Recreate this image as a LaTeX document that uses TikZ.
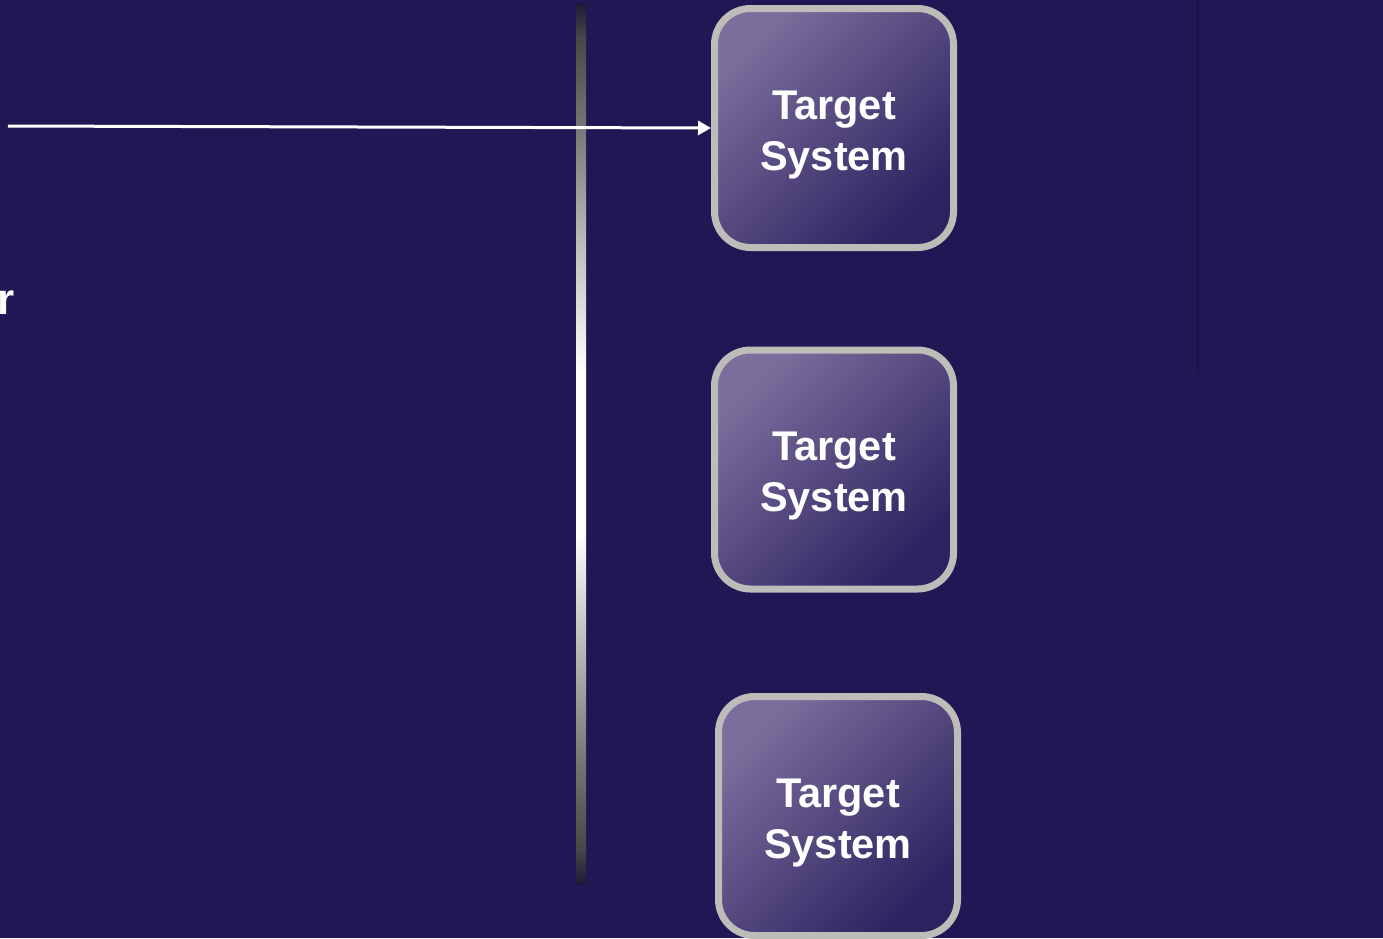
\documentclass[tikz,border=0pt]{standalone}
\usepackage{fontspec}
\setmainfont{Liberation Sans}
\usetikzlibrary{arrows.meta,shadings}

\definecolor{bgnavy}{HTML}{231655}
\definecolor{boxlight}{HTML}{7A6E9C}
\definecolor{boxdark}{HTML}{2D2160}
\definecolor{boxrim}{HTML}{BEBCB8}
\definecolor{bardark}{HTML}{1C1838}
\definecolor{divider}{HTML}{1C1246}

% bus bar: dark at both ends, white in the middle
% (TikZ maps the path onto the 25bp..75bp band of the shading)
\pgfdeclareverticalshading{busbar}{100bp}{%
  color(0bp)=(bardark); color(25bp)=(bardark); color(27bp)=(black!72!white);
  color(33bp)=(black!50!white); color(39bp)=(black!25!white);
  color(45bp)=(white); color(54bp)=(white); color(61bp)=(black!25!white);
  color(67bp)=(black!50!white); color(73bp)=(black!72!white);
  color(75bp)=(bardark); color(100bp)=(bardark)}

\tikzset{
  target/.style={draw=boxrim, line width=7pt, rounded corners=36pt,
    minimum width=239pt, minimum height=239pt,
    top color=boxlight, bottom color=boxdark, shading angle=45},
  targettext/.style={text=white, align=center, yshift=-7pt,
    font=\fontsize{41.5}{51}\selectfont\bfseries},
  feed/.style={draw=white, line width=3pt, -{Triangle[length=13pt,width=14pt]}},
  sidelabel/.style={text=white, font=\fontsize{44}{52}\selectfont\bfseries, inner sep=0pt}
}

\begin{document}
\begin{tikzpicture}[x=1pt,y=-1pt]
  % canvas
  \fill[bgnavy] (0,0) rectangle (1383,938);
  \useasboundingbox (0,0) rectangle (1383,938);

  % faint divider on the right
  \draw[divider, line width=1.5pt] (1198,0) -- (1198,373);

  % vertical bus bar
  \shade[shading=busbar] (576,3) rectangle (586,884);

  % target systems
  \node[target] (t1) at (834,128)   {};
  \node[target] (t2) at (834,469.5) {};
  \node[target] (t3) at (838,816)   {};
  \node[targettext] (t1txt) at (t1) {Target\\System};
  \node[targettext] (t2txt) at (t2) {Target\\System};
  \node[targettext] (t3txt) at (t3) {Target\\System};

  % cut-off label on the left edge
  \node[sidelabel, anchor=base east] (lbl) at (15,314) {r};

  % feed line into the first target
  \coordinate (src) at (8,126);
  \draw[feed] (src) -- (t1.west);
\end{tikzpicture}
\end{document}
